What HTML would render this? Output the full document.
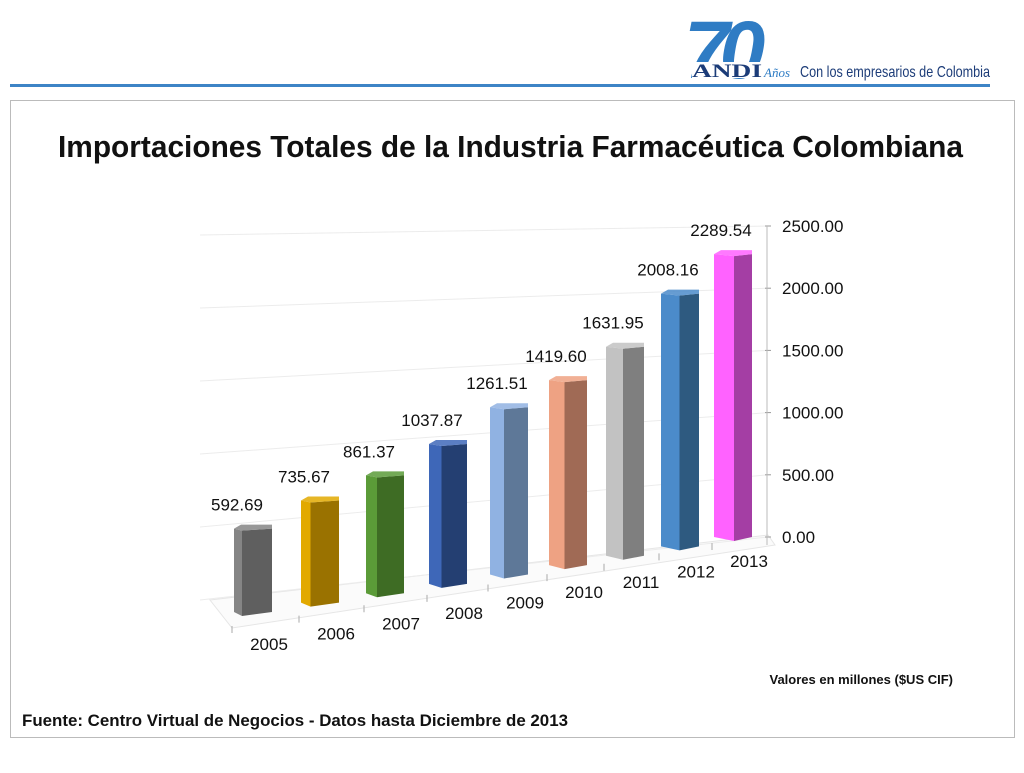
<!DOCTYPE html>
<html><head><meta charset="utf-8"><style>
body{margin:0;width:1024px;height:768px;background:#fff;overflow:hidden;font-family:"Liberation Sans",sans-serif}
</style></head><body>
<svg width="1024" height="768" xmlns="http://www.w3.org/2000/svg">
<g>
<text x="684" y="78" font-size="82" font-weight="bold" fill="#2f7cc4" font-family="Liberation Sans" font-style="italic" letter-spacing="-10">70</text>
<rect x="692" y="62" width="70" height="16" fill="#fff"/>
<text x="692" y="77" font-size="19" font-weight="bold" fill="#1c3c78" font-family="Liberation Serif" textLength="70" lengthAdjust="spacingAndGlyphs">ANDI</text>
<text x="764" y="77" font-size="13" font-style="italic" fill="#2f7cc4" font-family="Liberation Serif">Años</text>
<text x="800" y="77" font-size="16" fill="#1c3c78" font-family="Liberation Sans" textLength="190" lengthAdjust="spacingAndGlyphs">Con los empresarios de Colombia</text>
</g>
<rect x="10" y="84" width="980" height="3" fill="#3d84c6"/>
<rect x="10.5" y="100.5" width="1004" height="637" fill="none" stroke="#bbb"/>
<text x="58" y="157" font-size="31" font-weight="bold" fill="#111" textLength="905" lengthAdjust="spacingAndGlyphs">Importaciones Totales de la Industria Farmacéutica Colombiana</text>
<g id="chart"></g>
<text x="953" y="684" font-size="13" font-weight="bold" text-anchor="end" fill="#111">Valores en millones  ($US CIF)</text>
<text x="22" y="726" font-size="17" font-weight="bold" fill="#111" textLength="546" lengthAdjust="spacingAndGlyphs">Fuente:  Centro Virtual de Negocios - Datos hasta  Diciembre de 2013</text>
</svg>
<script>
const categories=["2005","2006","2007","2008","2009","2010","2011","2012","2013"];
const values=[592.69,735.67,861.37,1037.87,1261.51,1419.60,1631.95,2008.16,2289.54];
const tickValues=[0,500,1000,1500,2000,2500];
const tickLabels=["0.00","500.00","1000.00","1500.00","2000.00","2500.00"];
const frontColors=["#5f5f5f","#9a7200","#3e6c24","#243f72","#5e7898","#a06a55","#7f7f7f","#2e5a80","#a43ea4"];
const sideColors=["#858585","#e2a900","#5b9b38","#3e67b8","#90b2e2","#eea283","#c2c2c2","#4b8bca","#ff62ff"];
const NS="http://www.w3.org/2000/svg";
const g=document.getElementById('chart');
const n=categories.length;
function t(i){return i/(n-1);}
function xCenter(i){let x=253;for(let k=0;k<i;k++)x+=67-2*k;return x;}
function baseY(i){return 612-75*t(i);}
function scale(i){return 0.144-0.0196*t(i);}
function yVal(i,v){return baseY(i)-v*scale(i);}
function mk(tag,attrs,name){const e=document.createElementNS(NS,tag);for(const k in attrs)e.setAttribute(k,attrs[k]);


g.appendChild(e);return e;}
mk('polygon',{points:"210,600 768,535 775,545 232,628",fill:"#fbfbfb",stroke:"#e6e6e6"},'floor');
tickValues.forEach((v,j)=>{
 const yl=600-v*0.146, yr=537-v*0.1244;
 mk('line',{x1:200,y1:yl,x2:768,y2:yr,stroke:"#ececec","stroke-width":1},'gridline');
 mk('line',{x1:765,y1:yr,x2:771,y2:yr,stroke:"#999"},'y-tick');
 const tx=mk('text',{x:782,y:yr+6,"font-size":17,fill:"#111"},'y-tick-label');tx.textContent=tickLabels[j];
});
mk('line',{x1:767,y1:537-2500*0.1244,x2:767,y2:545,stroke:"#bbb"},'y-axis-line');
categories.forEach((c,i)=>{
 const xc=xCenter(i), b=baseY(i), top=yVal(i,values[i]);
 const sw=8+12*t(i), fw=30-12*t(i);
 const xl=xc-19, xm=xl+sw, xr=xm+fw;
 mk('polygon',{points:`${xl},${top+2} ${xm},${top+4} ${xm},${b+4} ${xl},${b}`,fill:sideColors[i]},'bar-side-'+c);
 mk('polygon',{points:`${xm},${top+4} ${xr},${top+2} ${xr},${b} ${xm},${b+4}`,fill:frontColors[i]},'bar-'+c);
 mk('polygon',{points:`${xl},${top+2} ${xl+7},${top-2} ${xr},${top-2} ${xr},${top+2} ${xm},${top+4}`,fill:sideColors[i],opacity:0.85},'bar-top-'+c);
 const lb=mk('text',{x:xc-(i<4?16:12),y:top-16,"font-size":17,"text-anchor":"middle",fill:"#111"},'value-label-'+c);lb.textContent=values[i].toFixed(2);
 const fy=628-83*t(i);
 const fx=232+(xc-253);
 mk('line',{x1:fx,y1:fy-2,x2:fx,y2:fy+5,stroke:"#aaa"},'x-tick');
 const xt=mk('text',{x:xc+16,y:fy+22,"font-size":17,"text-anchor":"middle",fill:"#111"},'x-label-'+c);xt.textContent=c;
});
</script>
</body></html>
